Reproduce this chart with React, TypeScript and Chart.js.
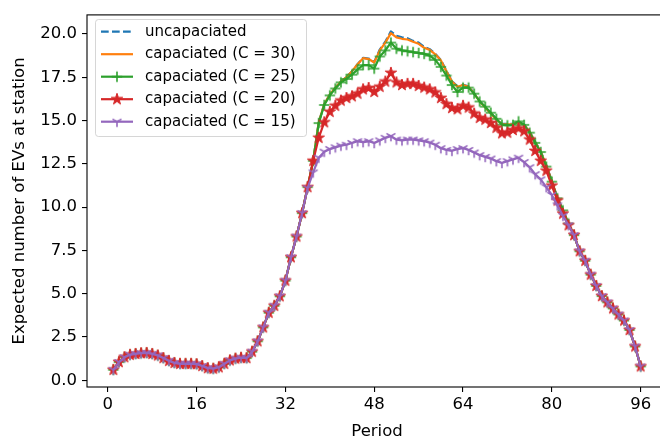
import React, { useEffect, useRef } from 'react';
import { Chart, registerables } from 'chart.js';

Chart.register(...registerables);

const periods: number[] = Array.from({ length: 96 }, (_, i) => i + 1);

const uncapacitated: number[] = [
  0.60, 1.05, 1.33, 1.47, 1.52, 1.56, 1.58, 1.52, 1.43, 1.28,
  1.12, 1.00, 0.95, 0.95, 0.95, 0.93, 0.82, 0.70, 0.67, 0.75,
  0.95, 1.15, 1.25, 1.30, 1.28, 1.65, 2.25, 3.05, 3.90, 4.30,
  4.85, 5.75, 7.10, 8.30, 9.65, 11.15,
  12.67, 14.90, 15.95, 16.50, 16.90, 17.25, 17.50, 17.85, 18.25, 18.62,
  18.58, 18.38, 19.10, 19.55, 20.15, 19.90, 19.80, 19.75, 19.60, 19.50,
  19.25, 19.12, 18.86, 18.50, 17.87, 17.27, 16.97, 17.07, 16.97, 16.57,
  16.12, 15.77, 15.42, 15.07, 14.82, 14.80, 14.82, 14.92, 14.77, 14.37,
  13.77, 13.22, 12.42, 11.52, 10.53, 9.83, 9.05,
  8.38, 7.45, 6.90, 6.10, 5.45, 4.86, 4.50, 4.15, 3.80, 3.45, 2.90, 1.95, 0.80,
];

const cap30: number[] = [
  0.60, 1.05, 1.33, 1.47, 1.52, 1.56, 1.58, 1.52, 1.43, 1.28,
  1.12, 1.00, 0.95, 0.95, 0.95, 0.93, 0.82, 0.70, 0.67, 0.75,
  0.95, 1.15, 1.25, 1.30, 1.28, 1.65, 2.25, 3.05, 3.90, 4.30,
  4.85, 5.75, 7.10, 8.30, 9.65, 11.15,
  12.67, 14.90, 15.95, 16.50, 16.90, 17.25, 17.50, 17.85, 18.25, 18.60,
  18.55, 18.35, 19.05, 19.50, 20.05, 19.80, 19.72, 19.68, 19.55, 19.43,
  19.20, 19.08, 18.82, 18.48, 17.85, 17.25, 16.95, 17.05, 16.95, 16.55,
  16.10, 15.75, 15.40, 15.05, 14.80, 14.78, 14.80, 14.90, 14.75, 14.35,
  13.75, 13.20, 12.40, 11.50, 10.52, 9.82, 9.05,
  8.38, 7.45, 6.90, 6.10, 5.45, 4.86, 4.50, 4.15, 3.80, 3.45, 2.90, 1.95, 0.80,
];

const cap25: number[] = [
  0.60, 1.05, 1.33, 1.47, 1.52, 1.56, 1.58, 1.52, 1.43, 1.28,
  1.12, 1.00, 0.95, 0.95, 0.95, 0.93, 0.82, 0.70, 0.67, 0.75,
  0.95, 1.15, 1.25, 1.30, 1.28, 1.65, 2.25, 3.05, 3.90, 4.30,
  4.85, 5.75, 7.10, 8.30, 9.65, 11.15,
  12.67, 14.85, 15.90, 16.45, 16.85, 17.20, 17.40, 17.65, 17.95, 18.20,
  18.20, 18.00, 18.70, 19.05, 19.50, 19.15, 19.05, 19.00, 18.95, 18.90,
  18.85, 18.75, 18.50, 18.10, 17.60, 17.05, 16.65, 16.90, 16.90, 16.55,
  16.10, 15.80, 15.45, 15.10, 14.76, 14.72, 14.75, 14.95, 14.75, 14.30,
  13.71, 13.18, 12.34, 11.47, 10.51, 9.81, 9.05,
  8.38, 7.45, 6.90, 6.10, 5.45, 4.86, 4.50, 4.15, 3.80, 3.45, 2.90, 1.95, 0.80,
];

const cap20: number[] = [
  0.60, 1.05, 1.33, 1.47, 1.52, 1.56, 1.58, 1.52, 1.43, 1.28,
  1.12, 1.00, 0.95, 0.95, 0.95, 0.93, 0.82, 0.70, 0.67, 0.75,
  0.95, 1.15, 1.25, 1.30, 1.28, 1.65, 2.25, 3.05, 3.90, 4.30,
  4.85, 5.75, 7.10, 8.30, 9.65, 11.15,
  12.67, 14.00, 14.90, 15.50, 15.85, 16.15, 16.30, 16.40, 16.55, 16.80,
  16.88, 16.65, 16.95, 17.25, 17.75, 17.20, 17.05, 17.12, 17.12, 17.00,
  16.90, 16.80, 16.62, 16.30, 15.95, 15.72, 15.65, 15.85, 15.75, 15.40,
  15.15, 15.05, 14.86, 14.58, 14.26, 14.30, 14.45, 14.55, 14.38, 13.90,
  13.24, 12.67, 12.10, 11.24, 10.38, 9.62, 8.95,
  8.38, 7.45, 6.90, 6.10, 5.45, 4.86, 4.50, 4.15, 3.80, 3.45, 2.90, 1.95, 0.80,
];

const cap15: number[] = [
  0.60, 1.05, 1.33, 1.47, 1.52, 1.56, 1.58, 1.52, 1.43, 1.28,
  1.12, 1.00, 0.95, 0.95, 0.95, 0.93, 0.82, 0.70, 0.67, 0.75,
  0.95, 1.15, 1.25, 1.30, 1.28, 1.65, 2.25, 3.05, 3.90, 4.30,
  4.85, 5.75, 7.10, 8.30, 9.65, 11.10,
  12.00, 12.85, 13.20, 13.35, 13.45, 13.55, 13.60, 13.70, 13.80, 13.75,
  13.80, 13.70, 13.85, 14.00, 14.10, 13.90, 13.85, 13.90, 13.90, 13.85,
  13.80, 13.72, 13.60, 13.40, 13.30, 13.25, 13.35, 13.40, 13.30, 13.15,
  13.00, 12.90, 12.80, 12.65, 12.55, 12.65, 12.75, 12.85, 12.60, 12.30,
  11.90, 11.60, 11.15, 10.70, 10.10, 9.50, 8.95,
  8.38, 7.45, 6.90, 6.10, 5.45, 4.86, 4.50, 4.15, 3.80, 3.45, 2.90, 1.95, 0.80,
];

const seriesLabels: string[] = [
  'uncapaciated',
  'capaciated (C = 30)',
  'capaciated (C = 25)',
  'capaciated (C = 20)',
  'capaciated (C = 15)',
];
const seriesColors: string[] = ['#1f77b4', '#ff7f0e', '#2ca02c', '#d62728', '#9467bd'];
const seriesMarkers: string[] = ['none', 'none', 'plus', 'star', 'tri'];

const xTicks: number[] = [0, 16, 32, 48, 64, 80, 96];
const yTicks: number[] = [0, 2.5, 5, 7.5, 10, 12.5, 15, 17.5, 20];

const FONT = "'DejaVu Sans', sans-serif";
const LINE_W = 2.2;
const DASH = [7.7, 3.3];

function makeMarker(kind: string, color: string): HTMLCanvasElement | null {
  if (kind === 'none') return null;
  const size = 16;
  const c = document.createElement('canvas');
  c.width = size;
  c.height = size;
  const ctx = c.getContext('2d')!;
  const cx = size / 2;
  const cy = size / 2;
  ctx.strokeStyle = color;
  ctx.fillStyle = color;
  ctx.lineWidth = 1.6;
  if (kind === 'plus') {
    const r = 5.2;
    ctx.beginPath();
    ctx.moveTo(cx - r, cy);
    ctx.lineTo(cx + r, cy);
    ctx.moveTo(cx, cy - r);
    ctx.lineTo(cx, cy + r);
    ctx.stroke();
  } else if (kind === 'star') {
    const R = 6;
    const r = R * 0.381966;
    ctx.beginPath();
    for (let i = 0; i < 10; i++) {
      const a = -Math.PI / 2 + (i * Math.PI) / 5;
      const rad = i % 2 === 0 ? R : r;
      ctx.lineTo(cx + rad * Math.cos(a), cy + rad * Math.sin(a));
    }
    ctx.closePath();
    ctx.fill();
    ctx.lineWidth = 1;
    ctx.stroke();
  } else if (kind === 'tri') {
    const r = 5.2;
    ctx.beginPath();
    ctx.moveTo(cx, cy);
    ctx.lineTo(cx, cy + r);
    ctx.moveTo(cx, cy);
    ctx.lineTo(cx - r * 0.866, cy - r * 0.5);
    ctx.moveTo(cx, cy);
    ctx.lineTo(cx + r * 0.866, cy - r * 0.5);
    ctx.stroke();
  }
  return c;
}

export default function App() {
  const ref = useRef<HTMLCanvasElement | null>(null);

  useEffect(() => {
    const canvas = ref.current;
    if (!canvas) return;
    const markers = seriesMarkers.map((m, i) => makeMarker(m, seriesColors[i]));
    const allSeries = [uncapacitated, cap30, cap25, cap20, cap15];

    const datasets = allSeries.map((vals, i) => ({
      label: seriesLabels[i],
      data: periods.map((p, j) => ({ x: p, y: vals[j] })),
      borderColor: seriesColors[i],
      backgroundColor: seriesColors[i],
      borderWidth: LINE_W,
      borderDash: i === 0 ? DASH : [],
      borderJoinStyle: 'round' as const,
      borderCapStyle: i === 0 ? ('butt' as const) : ('round' as const),
      pointRadius: markers[i] ? 5 : 0,
      pointStyle: (markers[i] || 'circle') as any,
      pointBorderWidth: 0,
      tension: 0,
      fill: false,
      order: 4 - i,
    }));

    const framePlugin = {
      id: 'frame',
      afterDatasetsDraw(chart: any) {
        const { ctx, chartArea } = chart;
        ctx.save();
        ctx.strokeStyle = '#000';
        ctx.lineWidth = 1.1;
        ctx.strokeRect(chartArea.left, chartArea.top, chartArea.right - chartArea.left, chartArea.bottom - chartArea.top);
        ctx.restore();
      },
    };

    const legendPlugin = {
      id: 'mplLegend',
      afterDraw(chart: any) {
        const ctx = chart.ctx as CanvasRenderingContext2D;
        ctx.save();
        const x0 = 95.5, y0 = 19.5, w = 211, h = 117, rr = 3;
        ctx.beginPath();
        ctx.moveTo(x0 + rr, y0);
        ctx.lineTo(x0 + w - rr, y0);
        ctx.quadraticCurveTo(x0 + w, y0, x0 + w, y0 + rr);
        ctx.lineTo(x0 + w, y0 + h - rr);
        ctx.quadraticCurveTo(x0 + w, y0 + h, x0 + w - rr, y0 + h);
        ctx.lineTo(x0 + rr, y0 + h);
        ctx.quadraticCurveTo(x0, y0 + h, x0, y0 + h - rr);
        ctx.lineTo(x0, y0 + rr);
        ctx.quadraticCurveTo(x0, y0, x0 + rr, y0);
        ctx.closePath();
        ctx.fillStyle = 'rgba(255,255,255,0.8)';
        ctx.fill();
        ctx.strokeStyle = 'rgba(204,204,204,0.8)';
        ctx.lineWidth = 1;
        ctx.stroke();

        for (let i = 0; i < seriesLabels.length; i++) {
          const cy = 31.7 + 22.5 * i;
          ctx.save();
          ctx.strokeStyle = seriesColors[i];
          ctx.lineWidth = LINE_W;
          ctx.setLineDash(i === 0 ? DASH : []);
          ctx.beginPath();
          ctx.moveTo(101, cy);
          ctx.lineTo(133, cy);
          ctx.stroke();
          ctx.restore();
          const m = markers[i];
          if (m) ctx.drawImage(m, 117 - m.width / 2, cy - m.height / 2);
          ctx.fillStyle = '#000';
          ctx.font = `15px ${FONT}`;
          ctx.textBaseline = 'middle';
          ctx.textAlign = 'left';
          ctx.fillText(seriesLabels[i], 145, cy);
        }
        ctx.restore();
      },
    };

    const chart = new Chart(canvas, {
      type: 'line',
      data: { datasets: datasets as any },
      options: {
        animation: false,
        responsive: false,
        devicePixelRatio: 1,
        events: [],
        layout: { padding: { left: 0, top: 11, right: 13, bottom: 0 } },
        plugins: { legend: { display: false }, tooltip: { enabled: false } },
        scales: {
          x: {
            type: 'linear',
            min: -3.75,
            max: 100.75,
            afterBuildTicks: (s: any) => {
              s.ticks = xTicks.map((v) => ({ value: v }));
            },
            afterFit: (s: any) => {
              s.height = 52;
            },
            grid: { drawOnChartArea: false, drawTicks: true, tickLength: 5, color: '#000', lineWidth: 1.1 },
            border: { display: false },
            ticks: {
              color: '#000',
              font: { family: FONT, size: 16.5 },
              padding: 3,
              maxRotation: 0,
              autoSkip: false,
              callback: (v: any) => String(v),
            },
            title: {
              display: true,
              text: 'Period',
              color: '#000',
              font: { family: FONT, size: 16.5 },
              padding: { top: 0, bottom: -3 },
            },
          },
          y: {
            type: 'linear',
            min: -0.39,
            max: 21.1,
            afterBuildTicks: (s: any) => {
              s.ticks = yTicks.map((v) => ({ value: v }));
            },
            afterFit: (s: any) => {
              s.width = 87;
            },
            grid: { drawOnChartArea: false, drawTicks: true, tickLength: 5, color: '#000', lineWidth: 1.1 },
            border: { display: false },
            ticks: {
              color: '#000',
              font: { family: FONT, size: 16.5 },
              padding: 5,
              autoSkip: false,
              callback: (v: any) => Number(v).toFixed(1),
            },
            title: {
              display: true,
              text: 'Expected number of EVs at station',
              color: '#000',
              font: { family: FONT, size: 16.5 },
              padding: { top: 10, bottom: 0 },
            },
          },
        },
      },
      plugins: [framePlugin, legendPlugin],
    });

    return () => {
      chart.destroy();
    };
  }, []);

  return (
    <div
      style={{
        position: 'fixed',
        left: 0,
        top: 0,
        width: 660,
        height: 439,
        overflow: 'hidden',
        background: '#fff',
      }}
    >
      <canvas ref={ref} width={680} height={439} style={{ display: 'block' }} />
    </div>
  );
}
